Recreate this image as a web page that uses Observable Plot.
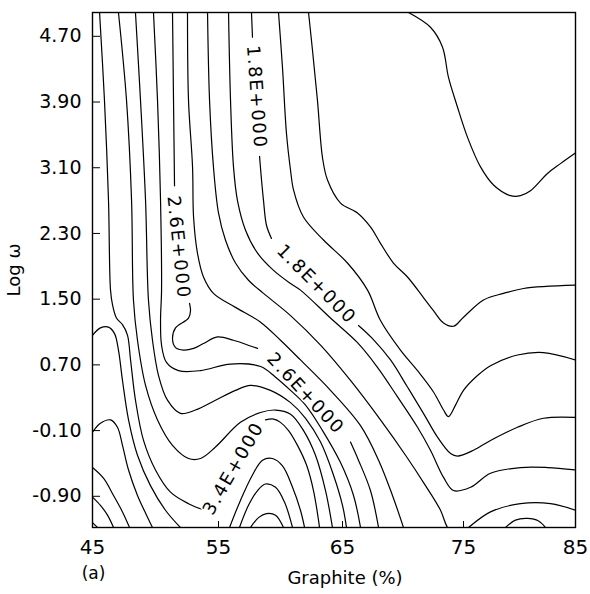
<!DOCTYPE html>
<html><head><meta charset="utf-8">
<script src="https://cdn.jsdelivr.net/npm/d3@7"></script>
<script src="https://cdn.jsdelivr.net/npm/@observablehq/plot@0.6"></script>
<style>
body{margin:0;background:#fff}
#chart svg{display:block}
#chart .clabel{letter-spacing:1.8px}
</style>
</head><body><div id="chart"></div>
<script>
const xTicks = [45, 55, 65, 75, 85];
const yTicks = [-0.9, -0.1, 0.7, 1.5, 2.3, 3.1, 3.9, 4.7];

// contour lines, [Graphite %, log ω]; labelled lines are broken where their labels sit
const c12 = [[70.45,4.99],[72.27,4.81],[73.26,4.57],[73.76,4.20],[74.50,3.84],[75.36,3.47],[76.52,3.11],[77.68,2.89],[79.20,2.76],[80.09,2.76],[80.98,2.82],[82.50,3.03],[83.66,3.15],[85.0,3.28]];
const c14 = [[62.26,4.99],[62.58,4.53],[62.98,3.92],[63.39,3.22],[63.79,2.95],[64.84,2.67],[66.24,2.55],[67.31,2.38],[68.14,2.18],[69.21,1.94],[70.37,1.77],[71.69,1.52],[72.52,1.36],[73.35,1.21],[74.17,1.17],[75.0,1.28],[76.79,1.49],[78.57,1.57],[80.36,1.63],[85.0,1.67]];
const c16 = [[59.84,4.99],[60.16,4.32],[60.48,3.52],[60.81,3.07],[61.05,2.83],[61.85,2.50],[63.47,2.22],[65.41,1.94],[67.07,1.61],[68.14,1.24],[69.79,0.88],[71.20,0.63],[72.52,0.37],[73.35,0.15],[73.76,0.07],[74.34,0.21],[75.0,0.39],[76.25,0.57],[77.41,0.69],[79.82,0.82],[82.14,0.85],[85.0,0.76]];
const c18a = [[57.66,4.99],[57.74,4.69]];
const c18b = [[58.31,3.24],[58.47,2.95],[58.63,2.70],[58.87,2.40],[59.27,2.24]];
const c18c = [[66.32,1.18],[67.48,1.02],[68.97,0.76],[70.37,0.43],[71.69,0.11],[72.85,-0.18],[73.93,-0.38],[74.50,-0.41],[75.89,-0.34],[77.41,-0.22],[79.82,-0.06],[82.14,0.05],[85.0,0.06]];
const c20 = [[55.81,4.99],[55.97,3.92],[56.21,3.11],[56.53,2.70],[57.18,2.34],[58.15,2.06],[59.44,1.85],[60.81,1.69],[61.61,1.61],[64.03,1.27],[66.24,0.97],[67.89,0.67],[69.55,0.31],[71.20,-0.06],[72.27,-0.34],[73.35,-0.67],[74.17,-0.83],[75.63,-0.79],[77.41,-0.62],[80.09,-0.55],[82.50,-0.55],[85.0,-0.58]];
const c22 = [[54.13,4.99],[54.29,3.92],[54.60,3.11],[55.0,2.55],[55.56,2.22],[56.37,1.94],[57.42,1.73],[58.63,1.57],[60.81,1.30],[63.23,0.94],[65.66,0.51],[68.14,0.03],[70.21,-0.40],[71.86,-0.77],[73.10,-1.07],[73.68,-1.28],[74.50,-1.40],[75.45,-1.28],[77.41,-1.09],[80.09,-0.99],[82.77,-0.99],[85.0,-1.07]];
const c24 = [[52.54,4.99],[52.62,3.92],[52.94,3.11],[53.02,2.50],[53.33,2.06],[53.81,1.77],[54.60,1.57],[56.37,1.40],[58.39,1.22],[60.0,1.00],[61.61,0.76],[64.03,0.39],[66.49,-0.04],[67.98,-0.46],[69.13,-0.89],[70.04,-1.28]];
const c26a = [[51.35,4.99],[51.43,3.92],[51.51,2.88]];
const c26b = [[52.70,1.45],[52.78,1.36],[52.62,1.27],[51.59,1.15],[51.35,1.02],[51.59,0.91],[52.22,0.88],[53.02,0.90],[53.81,0.96],[54.92,1.04],[56.21,1.00],[57.58,0.93],[58.15,0.90]];
const c26c = [[65.66,-0.24],[66.32,-0.46],[67.31,-0.83],[67.98,-1.28]];
const c28 = [[49.84,4.99],[50.16,3.92],[50.40,2.70],[50.48,1.61],[50.40,1.24],[50.48,0.94],[50.87,0.73],[51.83,0.63],[53.57,0.63],[55.97,0.71],[58.39,0.68],[59.60,0.55],[60.81,0.39],[62.02,0.21],[63.39,-0.10],[64.84,-0.49],[65.91,-0.89],[66.49,-1.28]];
const c30 = [[48.41,4.99],[48.81,3.92],[49.21,2.70],[49.44,1.49],[49.76,1.00],[50.24,0.57],[50.95,0.27],[51.98,0.11],[53.17,0.15],[54.76,0.27],[56.37,0.39],[57.58,0.45],[59.19,0.39],[60.81,0.24],[62.02,0.05],[63.23,-0.24],[64.27,-0.64],[65.0,-1.01],[65.33,-1.28]];
const c32 = [[47.06,4.99],[47.70,3.92],[48.10,2.70],[48.25,1.49],[48.57,1.00],[49.21,0.45],[50.16,0.03],[51.35,-0.28],[52.62,-0.44],[53.57,-0.44],[54.76,-0.30],[56.77,0.00],[58.39,0.12],[59.60,0.15],[60.81,0.10],[61.86,-0.10],[62.82,-0.40],[63.63,-0.83],[64.19,-1.28]];
const c34a = [[45.56,4.99],[45.95,3.92],[46.27,2.70],[46.43,1.61],[46.59,1.43],[46.90,1.27],[47.38,1.19],[47.78,1.06],[48.02,0.76],[48.41,0.27],[49.05,-0.22],[50.0,-0.58],[51.19,-0.85],[52.62,-0.99],[53.73,-1.06]];
const c34b = [[58.79,0.03],[59.44,0.04],[60.0,0.00],[60.65,-0.10],[61.37,-0.28],[62.10,-0.52],[62.66,-0.83],[63.15,-1.28]];
const c36 = [[45.0,1.06],[45.63,1.15],[46.27,1.16],[46.75,1.08],[47.06,0.88],[47.38,0.51],[47.86,0.03],[48.57,-0.40],[49.60,-0.77],[50.79,-1.07],[51.98,-1.28]];
const c38 = [[45.0,-0.12],[45.63,-0.01],[46.43,0.03],[46.98,-0.06],[47.38,-0.28],[47.86,-0.58],[48.57,-0.89],[49.29,-1.13],[49.76,-1.28]];
const c40 = [[45.0,-0.55],[45.87,-0.68],[46.67,-0.89],[47.38,-1.09],[47.94,-1.28]];
const c42 = [[45.0,-0.91],[45.63,-1.01],[46.19,-1.13],[46.67,-1.28]];
const c44 = [[45.0,-1.22],[45.40,-1.28]];
const h36 = [[55.89,-1.28],[56.77,-0.95],[57.74,-0.64],[58.55,-0.46],[59.35,-0.44],[60.16,-0.53],[60.97,-0.79],[61.61,-1.07],[61.94,-1.28]];
const h38 = [[56.69,-1.28],[57.42,-1.01],[58.15,-0.83],[58.79,-0.75],[59.60,-0.79],[60.32,-0.97],[60.97,-1.28]];
const h40 = [[57.58,-1.28],[58.23,-1.16],[58.87,-1.11],[59.60,-1.13],[60.24,-1.28]];
const r20 = [[78.75,-1.28],[79.64,-1.19],[80.71,-1.17],[81.70,-1.20],[82.32,-1.28]];

// contour labels
const labelText  = ["1.8E+000", "1.8E+000", "2.6E+000", "2.6E+000", "3.4E+000"];
const labelX     = [58.06, 62.90, 51.83, 62.02, 56.21];
const labelY     = [3.96, 1.68, 2.13, 0.35, -0.56];
const labelAngle = [86, 45, 84, 47, -60];

const contours = {c12, c14, c16, c18a, c18b, c18c, c20, c22, c24, c26a, c26b, c26c, c28, c30, c32, c34a, c34b, c36, c38, c40, c42, c44, h36, h38, h40, r20};
const lineData = Object.entries(contours).flatMap(([id, pts]) => pts.map(([x, y]) => ({id, x, y})));
const labels = labelText.map((t, i) => ({t, x: labelX[i], y: labelY[i], a: labelAngle[i]}));

const chart = Plot.plot({
  width: 590,
  height: 594,
  marginLeft: 92,
  marginRight: 15,
  marginTop: 12,
  marginBottom: 67,
  style: {fontFamily: "DejaVu Sans, sans-serif", fontSize: "18px", color: "#000", background: "#fff"},
  x: {type: "linear", domain: [45, 55, 65, 75, 85], range: [92, 218, 342, 463, 575]},
  y: {type: "linear", domain: [-1.28, 4.99]},
  marks: [
    Plot.line(lineData, {x: "x", y: "y", z: "id", curve: "catmull-rom", stroke: "#000", strokeWidth: 1.2, clip: true}),
    Plot.text(labels, {x: "x", y: "y", text: "t", rotate: "a", fill: "#000", stroke: "#fff", strokeWidth: 3, fontSize: 18, className: "clabel"}),
    Plot.frame({stroke: "#000", strokeWidth: 1.4}),
    Plot.axisX({ticks: xTicks, tickSize: -6, tickPadding: 18, tickFormat: d => String(d), label: null, fontSize: 20}),
    Plot.axisY({ticks: yTicks, tickSize: -8, tickPadding: 19, tickFormat: d => d.toFixed(2), label: null, fontSize: 19}),
    Plot.text(["Log ω"], {text: d => d, frameAnchor: "left", textAnchor: "middle", dx: -78, rotate: -90, fontSize: 18}),
    Plot.text(["Graphite (%)"], {text: d => d, frameAnchor: "bottom", textAnchor: "middle", dx: 11, dy: 56, fontSize: 18}),
    Plot.text(["(a)"], {text: d => d, frameAnchor: "bottom-left", textAnchor: "middle", dx: 1, dy: 51, fontSize: 17})
  ]
});
document.getElementById("chart").append(chart);
</script>
</body></html>
